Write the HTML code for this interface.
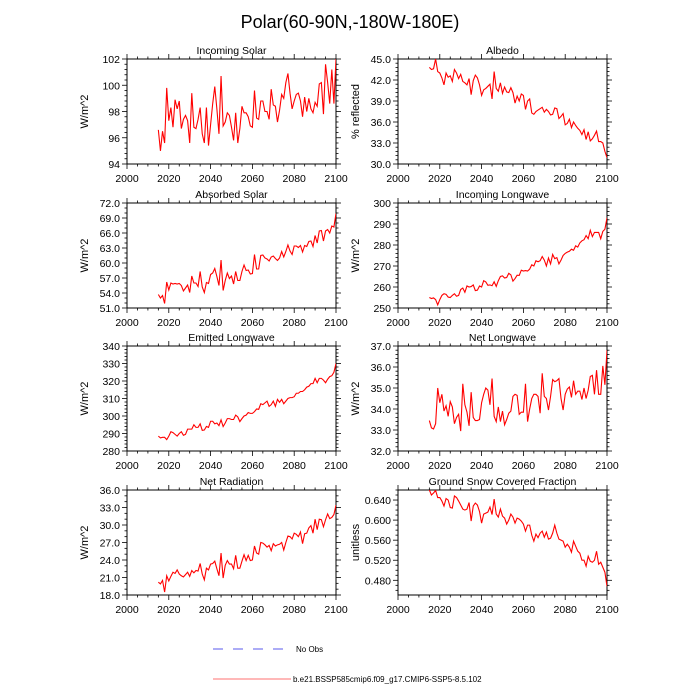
<!DOCTYPE html>
<html><head><meta charset="utf-8"><style>
html,body{margin:0;padding:0;background:#fff}
svg{display:block;font-family:"Liberation Sans",sans-serif}
</style></head><body>
<svg id="chart" width="700" height="700" viewBox="0 0 700 700">
<text x="350" y="28" text-anchor="middle" font-size="18">Polar(60-90N,-180W-180E)</text>
<g>
<line x1="213" y1="649" x2="289" y2="649" stroke="#5a5aee" stroke-width="1" stroke-dasharray="10,10"/>
<text x="296" y="652" font-size="8">No Obs</text>
<line x1="213" y1="679" x2="291" y2="679" stroke="#ff7070" stroke-width="1"/>
<text x="293" y="682" font-size="8">b.e21.BSSP585cmip6.f09_g17.CMIP6-SSP5-8.5.102</text>
</g>
</svg>
<script>
const years = [];
for (let y = 2015; y <= 2100; y++) years.push(y);
const xTicks = [2000, 2020, 2040, 2060, 2080, 2100];

const incomingSolar = [96.6,95.0,96.5,95.6,99.8,97.3,98.3,96.8,98.9,98.2,98.8,96.7,97.4,97.7,97.3,95.6,99.4,96.8,96.7,97.4,98.3,96.3,95.6,98.3,95.4,97.0,98.6,99.9,98.2,96.3,100.7,96.9,97.2,97.9,97.7,96.8,95.8,97.9,95.6,96.7,98.4,97.9,97.9,97.6,96.9,96.8,99.6,97.5,97.4,98.8,98.8,98.0,98.0,97.4,99.7,98.5,98.4,97.2,98.1,99.3,99.0,100.2,100.9,99.4,98.2,98.8,99.3,99.4,98.8,97.6,99.1,98.0,99.0,98.2,97.9,98.7,98.4,100.1,100.2,97.8,101.6,100.2,98.6,101.2,98.6,102.0];
const albedo = [43.8,43.5,43.6,45.0,43.2,43.0,42.3,41.3,43.0,42.4,42.6,41.8,43.5,43.0,42.2,42.8,41.8,41.6,41.3,42.2,39.9,41.9,42.7,42.3,41.3,39.8,40.6,40.8,41.1,41.4,39.3,43.2,40.8,40.4,41.6,40.1,41.0,40.3,40.2,40.9,40.2,38.7,39.7,39.0,40.0,39.8,37.8,39.0,39.3,37.3,37.1,37.5,37.7,37.9,38.1,37.4,37.8,37.5,37.0,37.1,38.0,37.9,36.5,36.8,37.2,35.6,35.8,36.4,35.2,36.0,35.5,35.1,34.8,34.2,34.9,33.5,34.6,33.3,33.6,34.1,34.7,33.2,33.2,33.0,31.8,30.9];
const absorbedSolar = [53.7,53.0,53.5,51.9,56.2,54.6,56.0,55.8,55.9,55.8,55.9,55.5,54.4,55.0,55.6,54.1,57.4,56.0,56.0,55.3,58.3,55.2,54.1,56.1,55.9,57.7,58.0,58.9,57.3,55.5,60.6,54.5,56.5,58.0,56.9,57.4,55.8,58.3,56.5,56.5,58.3,59.6,58.5,58.6,57.8,57.9,61.7,58.8,58.8,61.5,61.6,61.0,60.8,60.4,61.2,61.4,60.9,60.5,61.0,62.3,61.2,62.3,63.6,62.4,61.7,63.4,63.4,63.1,63.5,62.2,63.5,63.3,64.3,64.4,63.3,65.5,64.0,66.4,66.5,64.4,66.4,66.7,66.0,67.4,67.2,69.9];
const incomingLongwave = [255.0,254.5,254.8,254.0,251.5,254.0,256.0,256.8,256.5,255.2,255.0,256.0,256.8,255.6,256.0,258.8,259.5,257.5,260.5,260.0,260.2,261.0,258.3,258.5,260.5,260.0,263.0,262.4,260.8,261.0,260.6,262.5,260.3,263.0,265.0,265.3,264.3,264.5,266.5,265.8,262.8,264.0,265.6,265.5,268.0,267.6,267.8,267.6,268.5,270.6,270.0,272.5,272.0,272.5,274.5,272.8,270.0,273.8,271.0,275.5,273.5,274.0,271.0,272.8,275.0,276.0,276.6,277.0,278.0,277.5,279.6,279.0,281.0,282.0,282.5,284.5,283.0,287.0,284.0,286.0,286.0,286.0,283.0,286.5,287.5,293.0];
const emittedLongwave = [288.5,287.5,287.8,287.8,286.5,288.5,291.0,290.5,289.5,288.5,290.0,291.0,289.0,289.5,292.5,292.5,292.5,295.0,293.5,293.5,295.5,291.8,292.0,294.0,293.5,297.0,297.0,295.5,296.0,294.5,297.8,294.0,296.0,298.5,298.5,298.0,298.0,300.5,299.5,296.8,298.5,300.0,300.5,302.0,301.5,301.5,302.5,304.0,303.8,307.0,306.5,307.5,308.5,305.5,306.5,308.5,305.5,309.5,307.8,309.5,307.0,308.5,310.0,310.5,310.5,311.0,313.0,313.0,314.0,314.0,315.0,316.5,317.0,318.5,318.5,321.5,319.0,321.5,321.5,320.5,319.0,321.0,322.5,323.0,325.0,330.0];
const netLongwave = [33.45,33.1,33.05,33.3,35.0,34.3,34.7,33.9,34.15,33.65,34.35,34.1,33.3,33.6,33.75,32.95,35.2,34.2,33.85,33.2,34.8,33.6,33.45,33.45,33.5,34.3,34.7,35.0,34.9,34.2,35.45,33.65,33.4,34.1,33.4,33.9,33.25,33.5,33.8,33.9,34.6,34.7,34.65,33.75,33.85,33.85,35.2,33.4,34.0,34.5,34.7,34.7,34.6,33.8,35.7,34.6,34.5,33.95,34.6,35.4,35.3,35.35,35.45,34.5,33.95,34.7,34.95,35.05,34.55,35.35,34.7,34.85,34.85,34.45,35.0,34.5,34.9,35.55,35.6,34.7,35.85,34.7,34.7,36.05,35.15,36.8];
const netRadiation = [20.2,19.9,20.5,18.5,21.3,20.4,21.2,21.9,21.7,22.3,21.6,21.3,21.1,21.5,21.9,21.2,22.2,21.8,22.2,22.1,23.4,21.6,20.6,22.6,22.3,23.3,23.4,23.8,22.5,21.3,25.2,20.9,23.1,23.9,23.3,23.3,22.5,24.8,22.6,22.6,23.8,24.9,23.9,24.8,23.9,24.0,26.4,25.2,25.0,27.0,26.9,26.6,26.2,26.5,25.6,26.8,26.4,26.6,26.7,27.0,25.7,27.0,28.1,28.0,27.6,28.6,28.4,28.0,28.8,26.8,28.5,28.6,29.5,29.9,28.6,31.0,29.2,31.0,30.9,29.7,30.9,31.9,31.1,31.3,31.8,33.4];
const snowFraction = [0.660,0.650,0.654,0.659,0.645,0.645,0.638,0.628,0.643,0.640,0.625,0.624,0.648,0.645,0.638,0.630,0.622,0.620,0.622,0.635,0.598,0.628,0.634,0.630,0.617,0.594,0.612,0.614,0.616,0.626,0.611,0.642,0.612,0.606,0.622,0.608,0.604,0.592,0.600,0.612,0.606,0.594,0.604,0.602,0.598,0.592,0.578,0.590,0.590,0.570,0.558,0.572,0.565,0.574,0.578,0.566,0.576,0.562,0.564,0.574,0.590,0.574,0.562,0.560,0.558,0.546,0.552,0.546,0.536,0.558,0.548,0.538,0.534,0.520,0.520,0.508,0.528,0.518,0.516,0.520,0.538,0.512,0.516,0.506,0.496,0.468];

const solarTicks = [94,96,98,100,102];
const albedoTicks = [30,33,36,39,42,45];
const absorbedTicks = [51,54,57,60,63,66,69,72];
const inLwTicks = [250,260,270,280,290,300];
const emLwTicks = [280,290,300,310,320,330,340];
const netLwTicks = [32,33,34,35,36,37];
const netRadTicks = [18,21,24,27,30,33,36];
const snowTicks = [0.48,0.52,0.56,0.60,0.64];

const NS = 'http://www.w3.org/2000/svg';
const svg = document.getElementById('chart');
function mk(tag, attrs, parent) {
  const e = document.createElementNS(NS, tag);
  for (const k in attrs) e.setAttribute(k, attrs[k]);
  parent.appendChild(e);
  return e;
}

const panels = [
  {id:'incoming-solar', title:'Incoming Solar', ylab:'W/m^2', data:incomingSolar, ticks:solarTicks, ymin:94, ymax:102, dec:0, minorN:5, x0:127, y0:59},
  {id:'albedo', title:'Albedo', ylab:'% reflected', data:albedo, ticks:albedoTicks, ymin:30, ymax:45, dec:1, minorN:5, x0:398, y0:59},
  {id:'absorbed-solar', title:'Absorbed Solar', ylab:'W/m^2', data:absorbedSolar, ticks:absorbedTicks, ymin:51, ymax:72, dec:1, minorN:3, x0:127, y0:203},
  {id:'incoming-longwave', title:'Incoming Longwave', ylab:'W/m^2', data:incomingLongwave, ticks:inLwTicks, ymin:250, ymax:300, dec:0, minorN:5, x0:398, y0:203},
  {id:'emitted-longwave', title:'Emitted Longwave', ylab:'W/m^2', data:emittedLongwave, ticks:emLwTicks, ymin:280, ymax:340, dec:0, minorN:5, x0:127, y0:346},
  {id:'net-longwave', title:'Net Longwave', ylab:'W/m^2', data:netLongwave, ticks:netLwTicks, ymin:32, ymax:37, dec:1, minorN:5, x0:398, y0:346},
  {id:'net-radiation', title:'Net Radiation', ylab:'W/m^2', data:netRadiation, ticks:netRadTicks, ymin:18, ymax:36, dec:1, minorN:3, x0:127, y0:490},
  {id:'ground-snow', title:'Ground Snow Covered Fraction', ylab:'unitless', data:snowFraction, ticks:snowTicks, ymin:0.4507, ymax:0.66, dec:3, minorN:4, x0:398, y0:490}
];
const W = 209, H = 105, XMIN = 2000, XMAX = 2100;

panels.forEach(p => {
  const g = mk('g', {}, svg);
  
  
  const xs = v => p.x0 + (v - XMIN) / (XMAX - XMIN) * W;
  const ys = v => p.y0 + H - (v - p.ymin) / (p.ymax - p.ymin) * H;
  const x1 = p.x0, x2 = p.x0 + W, yT = p.y0, yB = p.y0 + H;

  for (let v = XMIN; v <= XMAX; v += 5) {
    const major = v % 20 === 0;
    const L = major ? 5 : 2.5;
    mk('line', {x1:xs(v), y1:yB, x2:xs(v), y2:yB + L, stroke:'#000', 'stroke-width':0.8}, g);
    mk('line', {x1:xs(v), y1:yT, x2:xs(v), y2:yT - L, stroke:'#000', 'stroke-width':0.8}, g);
  }
  xTicks.forEach(v => {
    const t = mk('text', {x:xs(v), y:yB + 18, 'text-anchor':'middle', 'font-size':10.5}, g);
    t.textContent = v;
    
    
  });
  const tk = p.ticks;
  const step = tk[1] - tk[0];
  const mstep = step / p.minorN;
  for (let v = tk[0] - Math.floor((tk[0] - p.ymin) / mstep) * mstep; v <= p.ymax + 1e-9; v += mstep) {
    const isMajor = tk.some(t => Math.abs(t - v) < mstep / 10);
    const L = isMajor ? 5 : 2.5;
    mk('line', {x1:x1, y1:ys(v), x2:x1 - L, y2:ys(v), stroke:'#000', 'stroke-width':0.8}, g);
    mk('line', {x1:x2, y1:ys(v), x2:x2 + L, y2:ys(v), stroke:'#000', 'stroke-width':0.8}, g);
  }
  tk.forEach(v => {
    const t = mk('text', {x:x1 - 7, y:ys(v) + 4, 'text-anchor':'end', 'font-size':10.5}, g);
    t.textContent = v.toFixed(p.dec);
    
    
  });
  const r = mk('rect', {x:x1, y:yT, width:W, height:H, fill:'none', stroke:'#000', 'stroke-width':1}, g);
  
  
  const ti = mk('text', {x:x1 + W / 2, y:yT - 5, 'text-anchor':'middle', 'font-size':10.5}, g);
  ti.textContent = p.title;
  
  
  const lx = x1 - 39, ly = yT + H / 2;
  const yl = mk('text', {x:lx, y:ly, 'text-anchor':'middle', 'font-size':11, transform:`rotate(-90 ${lx} ${ly})`}, g);
  yl.textContent = p.ylab;
  
  
  const clip = mk('clipPath', {id:'clip-' + p.id}, g);
  mk('rect', {x:x1, y:yT, width:W, height:H}, clip);
  const d = p.data.map((v, i) => (i ? 'L' : 'M') + xs(years[i]).toFixed(2) + ',' + ys(v).toFixed(2)).join('');
  const path = mk('path', {d:d, fill:'none', stroke:'#ff0000', 'stroke-width':1.1, 'clip-path':`url(#clip-${p.id})`}, g);
  
  
});
</script>
</body></html>
